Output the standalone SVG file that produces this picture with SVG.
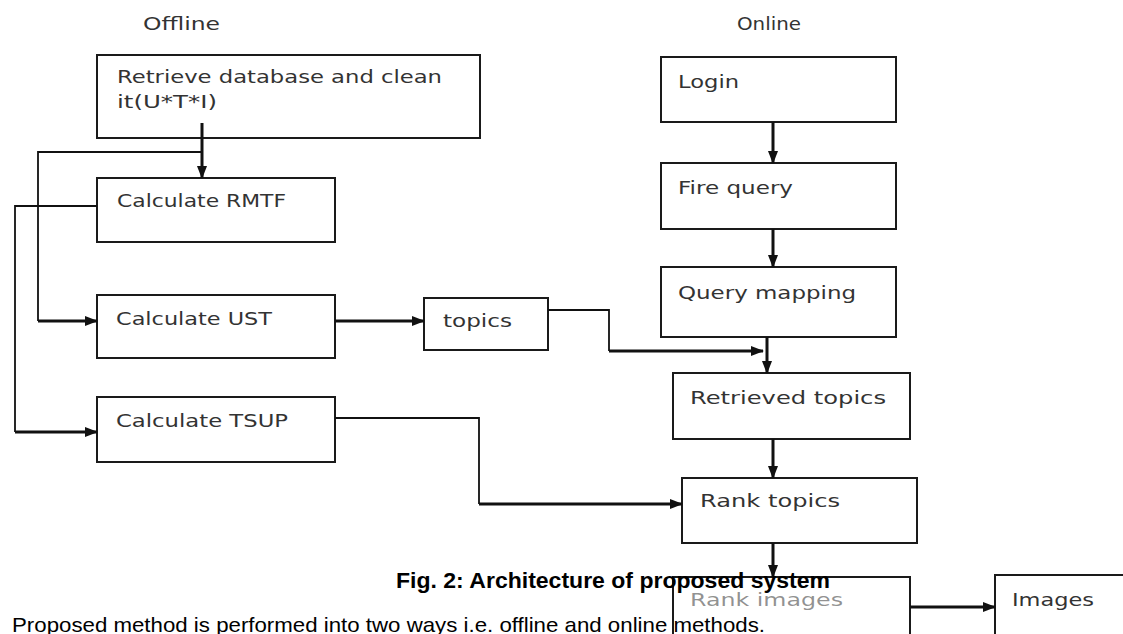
<svg xmlns="http://www.w3.org/2000/svg" width="1123" height="634" viewBox="0 0 1123 634">
<style>
.box{fill:#fff;stroke:#1a1a1a;stroke-width:2}
.lbl{font-family:"DejaVu Sans",sans-serif;font-size:18px;fill:#333}
.thick{fill:none;stroke:#111;stroke-width:3}
.thin{fill:none;stroke:#111;stroke-width:1.8}
.cap{font-family:"Liberation Sans",sans-serif;font-weight:bold;font-size:22px;fill:#000}
.body{font-family:"Liberation Sans",sans-serif;font-size:21px;fill:#000}
</style>
<defs>
<marker id="ah" markerUnits="userSpaceOnUse" markerWidth="13" markerHeight="12" refX="12" refY="5" orient="auto" viewBox="0 0 13 10">
<path d="M0,0 L13,5 L0,10 z" fill="#111"/>
</marker>
</defs>
<rect width="1123" height="634" fill="#fff"/>
<text class="lbl" x="143" y="30" textLength="77" lengthAdjust="spacingAndGlyphs">Offline</text>
<text class="lbl" x="737" y="30" textLength="64" lengthAdjust="spacingAndGlyphs">Online</text>

<g id="n-retrieve"><rect class="box" x="97" y="55" width="383" height="83"/><text class="lbl" x="117" y="83" textLength="325" lengthAdjust="spacingAndGlyphs">Retrieve database and clean</text><text class="lbl" x="117" y="108" textLength="100" lengthAdjust="spacingAndGlyphs">it(U*T*I)</text></g>
<g id="n-rmtf"><rect class="box" x="97" y="178" width="238" height="64"/><text class="lbl" x="117" y="207" textLength="169" lengthAdjust="spacingAndGlyphs">Calculate RMTF</text></g>
<g id="n-ust"><rect class="box" x="97" y="295" width="238" height="63"/><text class="lbl" x="116" y="325" textLength="156" lengthAdjust="spacingAndGlyphs">Calculate UST</text></g>
<g id="n-tsup"><rect class="box" x="97" y="397" width="238" height="65"/><text class="lbl" x="116" y="427" textLength="172" lengthAdjust="spacingAndGlyphs">Calculate TSUP</text></g>
<g id="n-topics"><rect class="box" x="424" y="298" width="124" height="52"/><text class="lbl" x="443" y="327" textLength="69" lengthAdjust="spacingAndGlyphs">topics</text></g>
<g id="n-login"><rect class="box" x="661" y="57" width="235" height="65"/><text class="lbl" x="678" y="88" textLength="61" lengthAdjust="spacingAndGlyphs">Login</text></g>
<g id="n-fire"><rect class="box" x="661" y="163" width="235" height="66"/><text class="lbl" x="678" y="194" textLength="115" lengthAdjust="spacingAndGlyphs">Fire query</text></g>
<g id="n-qmap"><rect class="box" x="661" y="267" width="235" height="70"/><text class="lbl" x="678" y="299" textLength="178" lengthAdjust="spacingAndGlyphs">Query mapping</text></g>
<g id="n-rtopics"><rect class="box" x="673" y="373" width="237" height="66"/><text class="lbl" x="690" y="404" textLength="196" lengthAdjust="spacingAndGlyphs">Retrieved topics</text></g>
<g id="n-rank"><rect class="box" x="682" y="478" width="235" height="65"/><text class="lbl" x="700" y="507" textLength="140" lengthAdjust="spacingAndGlyphs">Rank topics</text></g>
<g id="n-rankimg"><rect class="box" x="673" y="577" width="237" height="80"/><text class="lbl" x="690" y="606" textLength="153" lengthAdjust="spacingAndGlyphs" fill-opacity="0.55">Rank images</text></g>
<g id="n-images"><rect class="box" x="995" y="575" width="150" height="85"/><text class="lbl" x="1012" y="606" textLength="82" lengthAdjust="spacingAndGlyphs">Images</text></g>

<g id="connectors">
<path class="thick" d="M202,123 V178" marker-end="url(#ah)"/>
<path class="thin" d="M202,152 H38 V321"/>
<path class="thick" d="M38,321 H97" marker-end="url(#ah)"/>
<path class="thin" d="M97,206 H15 V432"/>
<path class="thick" d="M15,432 H97" marker-end="url(#ah)"/>
<path class="thick" d="M335,321 H424" marker-end="url(#ah)"/>
<path class="thin" d="M548,310 H609 V351"/>
<path class="thick" d="M609,351 H763" marker-end="url(#ah)"/>
<path class="thin" d="M335,418 H479 V504"/>
<path class="thick" d="M479,504 H682" marker-end="url(#ah)"/>
<path class="thick" d="M773,122 V163" marker-end="url(#ah)"/>
<path class="thick" d="M773,229 V267" marker-end="url(#ah)"/>
<path class="thick" d="M767,337 V373" marker-end="url(#ah)"/>
<path class="thick" d="M773,439 V478" marker-end="url(#ah)"/>
<path class="thick" d="M773,543 V577" marker-end="url(#ah)"/>
<path class="thick" d="M910,607 H995" marker-end="url(#ah)"/>
</g>

<text class="cap" x="396" y="588" textLength="434" lengthAdjust="spacingAndGlyphs">Fig. 2: Architecture of proposed system</text>
<text class="body" x="12" y="632" textLength="753" lengthAdjust="spacingAndGlyphs">Proposed method is performed into two ways i.e. offline and online methods.</text>
</svg>
